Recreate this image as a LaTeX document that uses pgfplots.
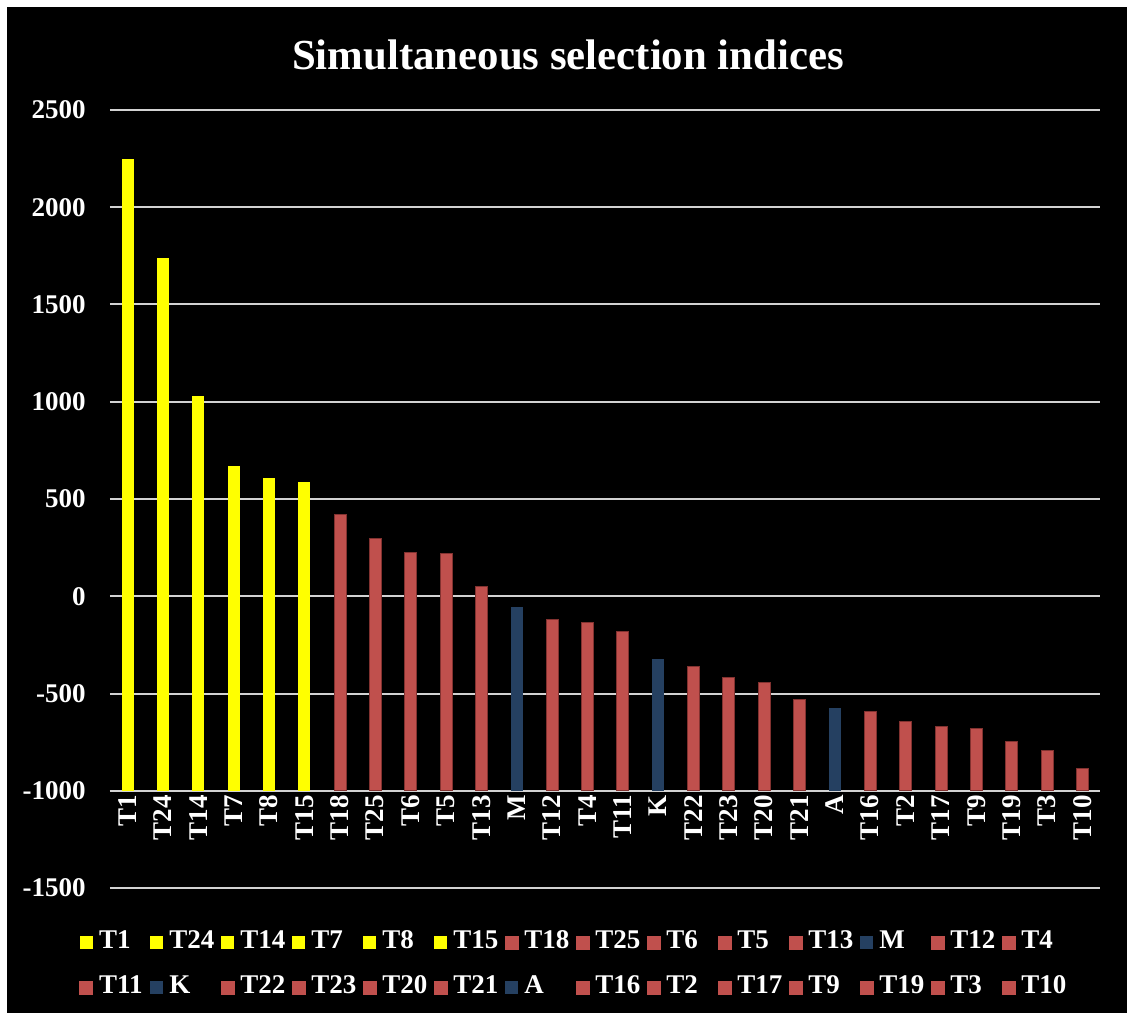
\documentclass[border=0pt]{standalone}
\usepackage{fontspec}
\setmainfont{Liberation Serif}
\usepackage{pgfplots}
\pgfplotsset{compat=1.18}
\definecolor{cY}{RGB}{255,255,0}
\definecolor{cR}{RGB}{192,80,77}
\definecolor{cRd}{RGB}{130,50,48}
\definecolor{cB}{RGB}{37,64,97}
\definecolor{cG}{RGB}{210,210,210}
\pgfplotsset{
  b/.style={fill=#1, draw=none, bar shift=0pt, bar width=6pt,
    legend image code/.code={\fill[#1] (0pt,-3.25pt) rectangle (6.5pt,3.25pt);}},
  r/.style={b=cR, draw=cRd, line width=0.3pt},
}
\begin{document}
\begin{tikzpicture}[x=0.5pt,y=0.5pt]
\fill[white] (0,0) rectangle (1127,1016);
\fill[black] (7,3) rectangle (1127,1009);
\node[font=\fontsize{21.4}{25}\selectfont\bfseries, text=white] at (568,961) {Simultaneous selection indices};
\begin{axis}[
  at={(55pt,64pt)}, anchor=south west,
  scale only axis, width=495pt, height=389pt,
  ybar,
  xmin=-0.5, xmax=27.5,
  ymin=-1500, ymax=2500,
  y coord trafo/.code={\pgfmathparse{#1+1000}},
  y coord inv trafo/.code={\pgfmathparse{#1-1000}},
  axis x line*=middle,
  axis y line*=left,
  hide obscured x ticks=false,
  hide obscured y ticks=false,
  y axis line style={draw=none},
  x axis line style={draw=cG, line width=1pt},
  major tick length=0pt,
  ymajorgrids,
  grid style={draw=cG, line width=1pt},
  ytick={-1500,-1000,-500,0,500,1000,1500,2000,2500},
  yticklabels={-1500,-1000,-500,0,500,1000,1500,2000,2500},
  xtick={0,...,27},
  xticklabels={T1,T24,T14,T7,T8,T15,T18,T25,T6,T5,T13,M,T12,T4,T11,K,T22,T23,T20,T21,A,T16,T2,T17,T9,T19,T3,T10},
  ticklabel style={font=\fontsize{13.5}{16}\selectfont\bfseries, text=white},
  yticklabel style={inner xsep=0pt},
  yticklabel shift=12pt,
  xticklabel style={rotate=90, anchor=east, inner xsep=2pt},
  legend columns=14,
  legend cell align=left,
  legend style={at={(axis description cs:-0.0313,-0.054)}, anchor=north west,
    draw=none, fill=none, inner sep=0pt, column sep=0pt, row sep=10.5pt,
    text=white, font=\fontsize{13.5}{16}\selectfont\bfseries,
    nodes={text width=22.7pt, inner xsep=3pt, inner ysep=0pt, text height=9pt, text depth=3pt, align=left}},
]
\addplot[b=cY] coordinates {(0,2250)};
\addplot[b=cY] coordinates {(1,1740)};
\addplot[b=cY] coordinates {(2,1030)};
\addplot[b=cY] coordinates {(3,671)};
\addplot[b=cY] coordinates {(4,609)};
\addplot[b=cY] coordinates {(5,589)};
\addplot[r] coordinates {(6,423)};
\addplot[r] coordinates {(7,300)};
\addplot[r] coordinates {(8,224)};
\addplot[r] coordinates {(9,219)};
\addplot[r] coordinates {(10,53)};
\addplot[b=cB] coordinates {(11,-54)};
\addplot[r] coordinates {(12,-116)};
\addplot[r] coordinates {(13,-135)};
\addplot[r] coordinates {(14,-178)};
\addplot[b=cB] coordinates {(15,-322)};
\addplot[r] coordinates {(16,-362)};
\addplot[r] coordinates {(17,-417)};
\addplot[r] coordinates {(18,-440)};
\addplot[r] coordinates {(19,-530)};
\addplot[b=cB] coordinates {(20,-577)};
\addplot[r] coordinates {(21,-593)};
\addplot[r] coordinates {(22,-645)};
\addplot[r] coordinates {(23,-670)};
\addplot[r] coordinates {(24,-677)};
\addplot[r] coordinates {(25,-744)};
\addplot[r] coordinates {(26,-794)};
\addplot[r] coordinates {(27,-885)};
\legend{T1,T24,T14,T7,T8,T15,T18,T25,T6,T5,T13,M,T12,T4,T11,K,T22,T23,T20,T21,A,T16,T2,T17,T9,T19,T3,T10}
\end{axis}
\end{tikzpicture}
\end{document}
